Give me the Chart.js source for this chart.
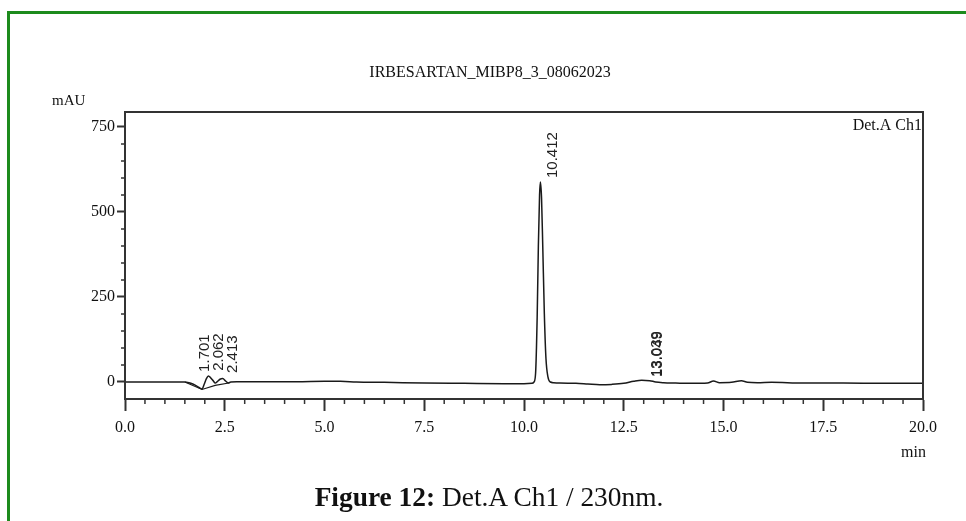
<!DOCTYPE html>
<html>
<head>
<meta charset="utf-8">
<script src="https://cdn.jsdelivr.net/npm/chart.js@4.4.0/dist/chart.umd.min.js"></script>
<style>
    body { margin: 0; background: #fff; overflow: hidden; }
    #frame { position: absolute; left: 7px; top: 11px; width: 1000px; height: 600px; border: 3px solid #1d8b1d; }
    #wrap { position: absolute; left: 0; top: 0; width: 966px; height: 521px; }
    #caption { position: absolute; left: 0; top: 482px; width: 978px; text-align: center;
               font: 27.4px "Liberation Serif"; line-height: 31px; color: #111; }
</style>
</head>
<body>
<div id="frame"></div>
<div id="wrap"><canvas id="hplcChart" width="966" height="521"></canvas></div>
<div id="caption"><b>Figure 12:</b> Det.A Ch1 / 230nm.</div>

<script>

// retention time (min) and detector signal (mAU)
const retTimes = [
    0.0, 0.5, 1.0, 1.4, 1.5, 1.6, 1.7, 1.8, 1.88, 1.93, 1.98, 2.04, 2.09, 2.15,
    2.22, 2.26, 2.32, 2.38, 2.45, 2.52, 2.59, 2.65, 2.8, 3.5, 4.3, 5.0, 5.4, 5.8,
    6.5, 7.5, 8.5, 9.5, 10.0, 10.2, 10.25, 10.29, 10.33, 10.36, 10.39, 10.412,
    10.44, 10.47, 10.51, 10.55, 10.60, 10.66, 10.74, 10.9, 11.3, 11.6, 11.9, 12.2,
    12.5, 12.75, 12.95, 13.15, 13.3, 13.5, 13.8, 14.2, 14.6, 14.75, 14.9, 15.2,
    15.45, 15.6, 15.85, 16.2, 17.0, 18.0, 19.0, 20.0
];
const absorbance = [
    0, 0, 0, 0, 0, -2, -6, -12, -18, -21, -8, 10, 18, 12,
    2, -3, 2, 8, 10, 3, -3, 0, 1, 1, 1, 2, 2, 0,
    -1, -3, -4, -5, -5, -4, 0, 25, 190, 400, 550, 588,
    540, 400, 200, 70, 15, 0, -2, -3, -4, -6, -8, -7,
    -4, 2, 5, 4, 0, -2, -3, -4, -3, 3, -2, -1,
    4, -1, -2, -1, -3, -3, -4, -4
];

// integration baseline drawn under the early peaks
const baseTimes = [1.50, 1.93, 2.26, 2.60];
const baseValues = [0, -22, -10, -3];

// peak labels
const peakTimes = [1.701, 2.062, 2.413, 10.412, 13.039, 13.049];
const peakLabels = ["1.701", "2.062", "2.413", "10.412", "13.039", "13.049"];
const peakTops = [18, 21, 15, 588, 3, 3];

const xTicks = [0, 2.5, 5, 7.5, 10, 12.5, 15, 17.5, 20];
const yTicks = [0, 250, 500, 750];


const axisColor = "#333";

// box, minor ticks, peak labels and the loose texts
const decorations = {
    id: "decorations",
    afterDraw(chart) {
        const ctx = chart.ctx;
        const a = chart.chartArea;
        const x = chart.scales.x;
        const y = chart.scales.y;

        ctx.save();

        ctx.strokeStyle = axisColor;
        ctx.lineWidth = 2;
        ctx.strokeRect(a.left, a.top, a.right - a.left, a.bottom - a.top);

        // minor ticks
        ctx.lineWidth = 1.5;
        ctx.beginPath();
        for (let v = 0.5; v < 20; v += 0.5) {
            if (xTicks.includes(v)) continue;
            const px = x.getPixelForValue(v);
            ctx.moveTo(px, a.bottom);
            ctx.lineTo(px, a.bottom + 5);
        }
        for (let v = 50; v < 790; v += 50) {
            if (yTicks.includes(v)) continue;
            const py = y.getPixelForValue(v);
            ctx.moveTo(a.left, py);
            ctx.lineTo(a.left - 4, py);
        }
        ctx.stroke();

        // peak labels, rotated
        ctx.fillStyle = "#222";
        ctx.font = '15px "Liberation Sans"';
        ctx.textAlign = "left";
        ctx.textBaseline = "middle";
        peakTimes.forEach(function (t, i) {
            ctx.save();
            ctx.translate(x.getPixelForValue(t) + 12, y.getPixelForValue(peakTops[i]) - 4);
            ctx.rotate(-Math.PI / 2);
            ctx.fillText(peakLabels[i], 0, 0);
            ctx.restore();
        });

        ctx.fillStyle = "#111";
        ctx.font = '16px "Liberation Serif"';
        ctx.textAlign = "center";
        ctx.fillText("IRBESARTAN_MIBP8_3_08062023", 490, 73);

        ctx.font = '15px "Liberation Serif"';
        ctx.textAlign = "left";
        ctx.fillText("mAU", 52, 101);

        ctx.font = '16px "Liberation Serif"';
        ctx.textAlign = "right";
        ctx.fillText("Det.A Ch1", a.right - 1, 126);
        ctx.fillText("min", a.right + 3, 453);

        ctx.restore();
    }
};


new Chart(
    document.getElementById("hplcChart"),
    {
        type: "line",

        data: {
            datasets: [
                {
                    label: "Det.A Ch1",
                    data: retTimes.map(function (t, i) { return { x: t, y: absorbance[i] }; }),
                    borderColor: "#1a1a1a",
                    borderWidth: 1.5,
                    pointRadius: 0,
                    cubicInterpolationMode: "monotone"
                },
                {
                    label: "baseline",
                    data: baseTimes.map(function (t, i) { return { x: t, y: baseValues[i] }; }),
                    borderColor: "#1a1a1a",
                    borderWidth: 1.2,
                    pointRadius: 0,
                    tension: 0
                }
            ]
        },

        options: {
            responsive: false,
            animation: false,
            layout: {
                padding: { left: 0, top: 112, right: 43, bottom: 0 }
            },
            plugins: {
                legend: { display: false },
                tooltip: { enabled: false }
            },
            scales: {
                x: {
                    type: "linear",
                    min: 0,
                    max: 20,
                    afterBuildTicks: function (scale) {
                        scale.ticks = xTicks.map(function (v) { return { value: v }; });
                    },
                    afterFit: function (scale) { scale.height = 122; },
                    border: { color: axisColor, width: 2 },
                    grid: {
                        drawOnChartArea: false,
                        tickLength: 12,
                        tickColor: axisColor,
                        tickWidth: 2
                    },
                    ticks: {
                        autoSkip: false,
                        maxRotation: 0,
                        padding: 7,
                        color: "#111",
                        font: { family: "Liberation Serif", size: 16 },
                        callback: function (v) { return Number(v).toFixed(1); }
                    }
                },
                y: {
                    min: -50,
                    max: 794,
                    afterBuildTicks: function (scale) {
                        scale.ticks = yTicks.map(function (v) { return { value: v }; });
                    },
                    afterFit: function (scale) { scale.width = 125; },
                    border: { color: axisColor, width: 2 },
                    grid: {
                        drawOnChartArea: false,
                        tickLength: 8,
                        tickColor: axisColor,
                        tickWidth: 2
                    },
                    ticks: {
                        padding: 2,
                        color: "#111",
                        font: { family: "Liberation Serif", size: 16 },
                        callback: function (v) { return String(v); }
                    }
                }
            }
        },

        plugins: [decorations]
    }
);

</script>
</body>
</html>
